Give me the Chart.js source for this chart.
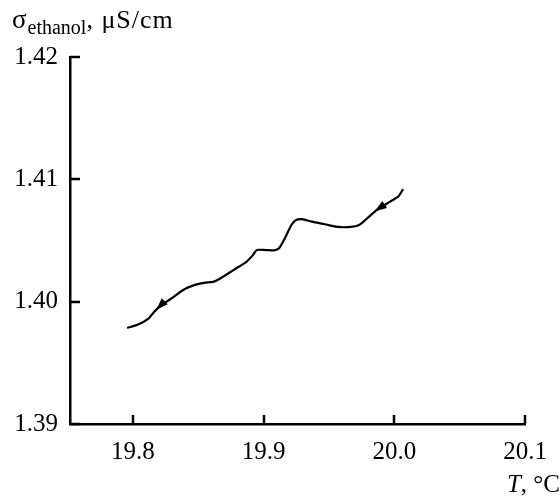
<!DOCTYPE html>
<html>
<head>
<meta charset="utf-8">
<title>Ethanol conductivity vs temperature</title>
<script src="https://cdn.jsdelivr.net/npm/chart.js@4"></script>
<style>
  html, body { margin: 0; padding: 0; background: #fff; }
  #wrap { width: 560px; height: 497px; position: relative; }
</style>
</head>
<body>
<div id="wrap"><canvas id="sigmaChart"></canvas></div>
<script>
// temperature, °C
var temperature = [
  19.7957, 19.8045, 19.8120, 19.8157, 19.8202, 19.8294, 19.8395, 19.8470,
  19.8545, 19.8614, 19.8669, 19.8769, 19.8869, 19.8919, 19.8949, 19.9019,
  19.9081, 19.9118, 19.9169, 19.9213, 19.9249, 19.9294, 19.9369, 19.9468,
  19.9568, 19.9668, 19.9730, 19.9793, 19.9867, 19.9968, 20.0030, 20.0067
];
// conductivity of ethanol, µS/cm
var conductivity = [
  1.39785, 1.39816, 1.39862, 1.39908, 1.39957, 1.40026, 1.40102, 1.40135,
  1.40154, 1.40162, 1.40190, 1.40258, 1.40326, 1.40381, 1.40422, 1.40422,
  1.40420, 1.40436, 1.40531, 1.40627, 1.40668, 1.40674, 1.40654, 1.40633,
  1.40611, 1.40611, 1.40627, 1.40682, 1.40750, 1.40818, 1.40859, 1.40920
];
var xTicks = [19.8, 19.9, 20.0, 20.1];
var yTicks = [1.39, 1.40, 1.41, 1.42];
// direction arrows on the curve: [tipT, tipSigma, tailT, tailSigma]
var arrows = [
  [19.8180, 1.39933, 19.8225, 1.39982],
  [19.9850, 1.40739, 19.9900, 1.40775]
];

var serif = "'Liberation Serif', 'Times New Roman', serif";
Chart.defaults.font.family = serif;
Chart.defaults.color = '#000';

var points = temperature.map((t, i) => ({x: t, y: conductivity[i]}));

// ticks pointing into the plot, arrows on the curve, axis titles
var decorations = {
  id: 'decorations',
  afterDraw(chart) {
    var ctx = chart.ctx;
    var area = chart.chartArea;
    var xs = chart.scales.x, ys = chart.scales.y;
    ctx.save();
    ctx.strokeStyle = '#000';
    ctx.lineWidth = 2.5;
    xTicks.forEach(v => {
      var px = Math.round(xs.getPixelForValue(v));
      ctx.beginPath();
      ctx.moveTo(px, area.bottom);
      ctx.lineTo(px, area.bottom - 9);
      ctx.stroke();
    });
    yTicks.forEach(v => {
      var py = Math.round(ys.getPixelForValue(v));
      ctx.beginPath();
      ctx.moveTo(area.left, py);
      ctx.lineTo(area.left + 10, py);
      ctx.stroke();
    });

    ctx.fillStyle = '#000';
    arrows.forEach(a => {
      var tx = xs.getPixelForValue(a[0]), ty = ys.getPixelForValue(a[1]);
      var bx = xs.getPixelForValue(a[2]), by = ys.getPixelForValue(a[3]);
      var ang = Math.atan2(ty - by, tx - bx);
      var len = 12, half = 4.2;
      var cx = Math.cos(ang), sy = Math.sin(ang);
      ctx.beginPath();
      ctx.moveTo(tx, ty);
      ctx.lineTo(tx - len * cx - half * sy, ty - len * sy + half * cx);
      ctx.lineTo(tx - len * cx + half * sy, ty - len * sy - half * cx);
      ctx.closePath();
      ctx.fill();
    });

    // y title: sigma with subscript
    ctx.textBaseline = 'alphabetic';
    ctx.textAlign = 'left';
    var x = 12;
    ctx.font = '27px ' + serif;
    ctx.fillText('σ', x, 28);
    x += ctx.measureText('σ').width + 1;
    ctx.font = '20px ' + serif;
    ctx.fillText('ethanol', x, 34);
    x += ctx.measureText('ethanol').width;
    ctx.font = '26px ' + serif;
    ctx.letterSpacing = '1px';
    ctx.fillText(', μS/cm', x, 28);
    ctx.letterSpacing = '0px';

    // x title
    ctx.textAlign = 'right';
    ctx.font = '25px ' + serif;
    var rest = ', °C';
    ctx.fillText(rest, 560, 492);
    var w = ctx.measureText(rest).width;
    ctx.font = 'italic 25px ' + serif;
    ctx.fillText('T', 560 - w, 492);
    ctx.restore();
  }
};

new Chart(document.getElementById('sigmaChart'), {
  type: 'scatter',
  data: {
    datasets: [{
      data: points,
      showLine: true,
      borderColor: '#000',
      borderWidth: 2.2,
      pointRadius: 0,
      tension: 0.25
    }]
  },
  options: {
    responsive: true,
    maintainAspectRatio: false,
    animation: false,
    layout: { padding: { top: 57, right: 25, bottom: 0, left: 0 } },
    plugins: {
      legend: { display: false },
      tooltip: { enabled: false }
    },
    scales: {
      x: {
        type: 'linear',
        min: 19.752,
        max: 20.1,
        afterBuildTicks: s => { s.ticks = xTicks.map(v => ({value: v})); },
        afterFit: s => { s.height = 73; },
        ticks: {
          callback: v => v.toFixed(1),
          font: { size: 25 },
          color: '#000',
          padding: 13,
          maxRotation: 0,
          autoSkip: false
        },
        grid: { display: false, drawTicks: false },
        border: { display: true, color: '#000', width: 2.5 }
      },
      y: {
        min: 1.39,
        max: 1.42,
        afterBuildTicks: s => { s.ticks = yTicks.map(v => ({value: v})); },
        afterFit: s => { s.width = 70; },
        ticks: {
          callback: v => v.toFixed(2),
          font: { size: 25 },
          color: '#000',
          padding: 12,
          autoSkip: false
        },
        grid: { display: false, drawTicks: false },
        border: { display: true, color: '#000', width: 2.5 }
      }
    }
  },
  plugins: [decorations]
});
</script>
</body>
</html>
